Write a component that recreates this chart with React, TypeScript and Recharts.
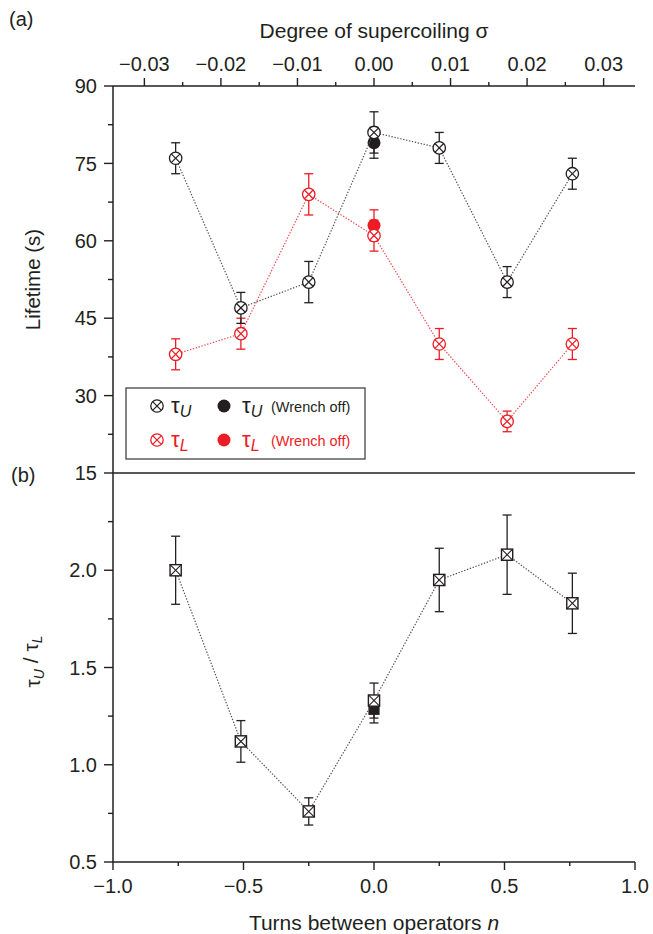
import React from "react";
import { ComposedChart, Scatter, XAxis, YAxis, ErrorBar, Label } from "recharts";

const FONT = '"Liberation Sans", Arial, Helvetica, sans-serif';
const INK = "#231f20";
const RED = "#ed1c24";

// measurement positions (turns between operators n)
const turns = [-0.76, -0.51, -0.25, 0, 0.25, 0.51, 0.76];

// panel (a) lifetimes (s)
const tauU = [76, 47, 52, 81, 78, 52, 73];
const tauUErr = [3, 3, 4, 4, 3, 3, 3];
const tauL = [38, 42, 69, 61, 40, 25, 40];
const tauLErr = [3, 3, 4, 3, 3, 2, 3];

// wrench off, only at n = 0
const offTurns = [0];
const tauUOff = [79];
const tauUOffErr = [3];
const tauLOff = [63];
const tauLOffErr = [3];

// panel (b) ratio tauU / tauL
const ratio = [2.0, 1.12, 0.76, 1.33, 1.95, 2.08, 1.83];
const ratioErr = [0.175, 0.107, 0.07, 0.09, 0.163, 0.204, 0.155];
const ratioOff = [1.285];
const ratioOffErr = [0.07];

// axis ticks
const sigmaMajor = [-0.03, -0.02, -0.01, 0, 0.01, 0.02, 0.03];
const sigmaMinor = [-0.025, -0.015, -0.005, 0.005, 0.015, 0.025];
const lifeMajor = [15, 30, 45, 60, 75, 90];
const lifeMinor = [22.5, 37.5, 52.5, 67.5, 82.5];
const ratioMajor = [0.5, 1.0, 1.5, 2.0];
const ratioMinor = [0.75, 1.25, 1.75, 2.25];
const turnsMajor = [-1, -0.5, 0, 0.5, 1];
const turnsMinor = [-0.75, -0.25, 0.25, 0.75];

const pts = (xs: number[], ys: number[], es: number[]) =>
    xs.map((n, i) => ({ n, v: ys[i], err: es[i] }));

// the top axis has no series of its own; this anchors it to its tick values
const sigmaAnchor = sigmaMajor.map((s) => ({ s, v: 50 }));

const minus = (s: string) => s.replace("-", "\u2212");
const sorted = (a: number[], b: number[]) => [...a, ...b].sort((x, y) => x - y);

const MAJOR = 8;
const MINOR = 4;
const TICK_FONT = 20;
const TITLE_FONT = 21;

// custom tick: draws its own tick line (major / minor) and the label
function axisTick(side: "left" | "top" | "bottom", major: number[], fmt: (v: number) => string) {
    return function Tick(props: any) {
        const { x, y, payload } = props;
        const v = payload.value;
        const isMajor = major.some((m) => Math.abs(m - v) < 1e-9);
        const len = (isMajor ? MAJOR : MINOR) + (side === "left" ? 1 : 0);
        if (side === "left") {
            return (
                <g>
                    <line x1={x} y1={y} x2={x - len} y2={y} stroke={INK} strokeWidth={1.4} />
                    {isMajor && (
                        <text x={x - 16} y={y} dy="0.36em" textAnchor="end" fontSize={TICK_FONT} fill={INK} fontFamily={FONT}>
                            {fmt(v)}
                        </text>
                    )}
                </g>
            );
        }
        if (side === "top") {
            return (
                <g>
                    <line x1={x} y1={y} x2={x} y2={y - len} stroke={INK} strokeWidth={1.4} />
                    {isMajor && (
                        <text x={x} y={y - 15} textAnchor="middle" fontSize={TICK_FONT} fill={INK} fontFamily={FONT}>
                            {fmt(v)}
                        </text>
                    )}
                </g>
            );
        }
        return (
            <g>
                <line x1={x} y1={y} x2={x} y2={y + len} stroke={INK} strokeWidth={1.4} />
                {isMajor && (
                    <text x={x} y={y + 31} textAnchor="middle" fontSize={TICK_FONT} fill={INK} fontFamily={FONT}>
                        {fmt(v)}
                    </text>
                )}
            </g>
        );
    };
}

function CircleX({ cx, cy, color }: { cx: number; cy: number; color: string }) {
    const r = 6.2;
    const d = r * 0.707;
    return (
        <g>
            <circle cx={cx} cy={cy} r={r} fill="#fff" stroke={color} strokeWidth={1.3} />
            <line x1={cx - d} y1={cy - d} x2={cx + d} y2={cy + d} stroke={color} strokeWidth={1.2} />
            <line x1={cx - d} y1={cy + d} x2={cx + d} y2={cy - d} stroke={color} strokeWidth={1.2} />
        </g>
    );
}

function BoxX({ cx, cy }: { cx: number; cy: number }) {
    const h = 5.6;
    return (
        <g>
            <rect x={cx - h} y={cy - h} width={2 * h} height={2 * h} fill="#fff" stroke={INK} strokeWidth={1.4} />
            <line x1={cx - h} y1={cy - h} x2={cx + h} y2={cy + h} stroke={INK} strokeWidth={1.1} />
            <line x1={cx - h} y1={cy + h} x2={cx + h} y2={cy - h} stroke={INK} strokeWidth={1.1} />
        </g>
    );
}

const axisLine = { stroke: INK, strokeWidth: 1.5 };
const dotted = (c: string) => ({ stroke: c, strokeWidth: 1.2, strokeDasharray: "1.4 1.6" });

export default function App() {
    const fmtSigma = (v: number) => minus(v.toFixed(2));
    const fmtTurns = (v: number) => minus(v.toFixed(1));

    return (
        <div
            style={{
                position: "absolute",
                left: 0,
                top: 0,
                width: 653,
                height: 934,
                background: "#fff",
                fontFamily: FONT,
                color: INK,
            }}
        >
            <div style={{ position: "absolute", left: 9, top: 7, fontSize: 20, lineHeight: "24px" }}>(a)</div>
            <div style={{ position: "absolute", left: 11, top: 463, fontSize: 20, lineHeight: "24px" }}>(b)</div>

            {/* panel (a) */}
            <div style={{ position: "absolute", left: 0, top: 0 }}>
                <ComposedChart width={653} height={490} margin={{ top: 46, right: 18, bottom: 16, left: 0 }}>
                    <XAxis
                        xAxisId="sigma"
                        dataKey="s"
                        orientation="top"
                        type="number"
                        domain={[-0.0341, 0.0341]}
                        allowDataOverflow
                        ticks={sorted(sigmaMajor, sigmaMinor)}
                        interval={0}
                        height={40}
                        tickSize={0}
                        tickMargin={0}
                        tickLine={false}
                        axisLine={axisLine}
                        tick={axisTick("top", sigmaMajor, fmtSigma)}
                    >
                        <Label
                            content={(p: any) => (
                                <text
                                    x={p.viewBox.x + p.viewBox.width / 2}
                                    y={38}
                                    textAnchor="middle"
                                    fontSize={TITLE_FONT}
                                    fill={INK}
                                    fontFamily={FONT}
                                >
                                    Degree of supercoiling σ
                                </text>
                            )}
                        />
                    </XAxis>
                    <XAxis
                        xAxisId="n"
                        dataKey="n"
                        type="number"
                        domain={[-1, 1]}
                        height={1}
                        tick={false}
                        tickLine={false}
                        axisLine={axisLine}
                    />
                    <YAxis
                        yAxisId="life"
                        dataKey="v"
                        type="number"
                        domain={[15, 90]}
                        ticks={sorted(lifeMajor, lifeMinor)}
                        interval={0}
                        width={113}
                        tickSize={0}
                        tickMargin={0}
                        tickLine={false}
                        axisLine={axisLine}
                        tick={axisTick("left", lifeMajor, (v) => String(v))}
                    >
                        <Label
                            content={(p: any) => {
                                const cy = p.viewBox.y + p.viewBox.height / 2;
                                return (
                                    <text
                                        x={40}
                                        y={cy}
                                        transform={`rotate(-90 40 ${cy})`}
                                        textAnchor="middle"
                                        fontSize={20.5}
                                        fill={INK}
                                        fontFamily={FONT}
                                    >
                                        Lifetime (s)
                                    </text>
                                );
                            }}
                        />
                    </YAxis>
                    <YAxis yAxisId="edge" orientation="right" width={0} tick={false} tickLine={false} axisLine={axisLine} />

                    <Scatter
                        xAxisId="sigma"
                        yAxisId="life"
                        data={sigmaAnchor}
                        isAnimationActive={false}
                        shape={() => <g />}
                    />
                    <Scatter
                        xAxisId="n"
                        yAxisId="life"
                        data={pts(offTurns, tauLOff, tauLOffErr)}
                        fill={RED}
                        isAnimationActive={false}
                        shape={(p: any) => <circle cx={p.cx} cy={p.cy} r={6.5} fill={RED} />}
                    >
                        <ErrorBar dataKey="err" direction="y" width={4.5} stroke={RED} strokeWidth={1.3} />
                    </Scatter>
                    <Scatter
                        xAxisId="n"
                        yAxisId="life"
                        data={pts(turns, tauL, tauLErr)}
                        fill={RED}
                        line={dotted("#ef4a50")}
                        lineType="joint"
                        isAnimationActive={false}
                        shape={(p: any) => <CircleX cx={p.cx} cy={p.cy} color={RED} />}
                    >
                        <ErrorBar dataKey="err" direction="y" width={4.5} stroke={RED} strokeWidth={1.3} />
                    </Scatter>
                    <Scatter
                        xAxisId="n"
                        yAxisId="life"
                        data={pts(offTurns, tauUOff, tauUOffErr)}
                        fill={INK}
                        isAnimationActive={false}
                        shape={(p: any) => <circle cx={p.cx} cy={p.cy} r={6.5} fill={INK} />}
                    >
                        <ErrorBar dataKey="err" direction="y" width={4.5} stroke={INK} strokeWidth={1.3} />
                    </Scatter>
                    <Scatter
                        xAxisId="n"
                        yAxisId="life"
                        data={pts(turns, tauU, tauUErr)}
                        fill={INK}
                        line={dotted("#555")}
                        lineType="joint"
                        isAnimationActive={false}
                        shape={(p: any) => <CircleX cx={p.cx} cy={p.cy} color={INK} />}
                    >
                        <ErrorBar dataKey="err" direction="y" width={4.5} stroke={INK} strokeWidth={1.3} />
                    </Scatter>
                </ComposedChart>
            </div>

            {/* panel (b) */}
            <div style={{ position: "absolute", left: 0, top: 0 }}>
                <ComposedChart width={653} height={934} margin={{ top: 473, right: 18, bottom: 12, left: 0 }}>
                    <XAxis
                        xAxisId="n"
                        dataKey="n"
                        type="number"
                        domain={[-1, 1]}
                        ticks={sorted(turnsMajor, turnsMinor)}
                        interval={0}
                        height={60}
                        tickSize={0}
                        tickMargin={0}
                        tickLine={false}
                        axisLine={axisLine}
                        tick={axisTick("bottom", turnsMajor, fmtTurns)}
                    >
                        <Label
                            content={(p: any) => (
                                <text
                                    x={p.viewBox.x + p.viewBox.width / 2}
                                    y={930}
                                    textAnchor="middle"
                                    fontSize={TITLE_FONT}
                                    fill={INK}
                                    fontFamily={FONT}
                                >
                                    Turns between operators <tspan fontStyle="italic">n</tspan>
                                </text>
                            )}
                        />
                    </XAxis>
                    <YAxis
                        yAxisId="ratio"
                        dataKey="v"
                        type="number"
                        domain={[0.5, 2.5]}
                        ticks={sorted(ratioMajor, ratioMinor)}
                        interval={0}
                        width={113}
                        tickSize={0}
                        tickMargin={0}
                        tickLine={false}
                        axisLine={axisLine}
                        tick={axisTick("left", ratioMajor, (v) => v.toFixed(1))}
                    >
                        <Label
                            content={(p: any) => {
                                const cy = p.viewBox.y + p.viewBox.height / 2 - 6;
                                return (
                                    <text
                                        x={40}
                                        y={cy}
                                        transform={`rotate(-90 40 ${cy})`}
                                        textAnchor="middle"
                                        fontSize={21}
                                        fill={INK}
                                        fontFamily={FONT}
                                    >
                                        τ
                                        <tspan fontSize={14} fontStyle="italic" dy="0.3em">U</tspan>
                                        <tspan dy="-0.3em"> / τ</tspan>
                                        <tspan fontSize={14} fontStyle="italic" dy="0.3em">L</tspan>
                                    </text>
                                );
                            }}
                        />
                    </YAxis>
                    <YAxis yAxisId="edge" orientation="right" width={0} tick={false} tickLine={false} axisLine={axisLine} />

                    <Scatter
                        xAxisId="n"
                        yAxisId="ratio"
                        data={pts(offTurns, ratioOff, ratioOffErr)}
                        fill={INK}
                        isAnimationActive={false}
                        shape={(p: any) => <rect x={p.cx - 5.6} y={p.cy - 5.6} width={11.2} height={11.2} fill={INK} />}
                    >
                        <ErrorBar dataKey="err" direction="y" width={4.5} stroke={INK} strokeWidth={1.3} />
                    </Scatter>
                    <Scatter
                        xAxisId="n"
                        yAxisId="ratio"
                        data={pts(turns, ratio, ratioErr)}
                        fill={INK}
                        line={dotted("#555")}
                        lineType="joint"
                        isAnimationActive={false}
                        shape={(p: any) => <BoxX cx={p.cx} cy={p.cy} />}
                    >
                        <ErrorBar dataKey="err" direction="y" width={4.5} stroke={INK} strokeWidth={1.3} />
                    </Scatter>
                </ComposedChart>
            </div>

            {/* legend box for panel (a) */}
            <svg
                width={241}
                height={74}
                style={{ position: "absolute", left: 125, top: 387 }}
                fontFamily={FONT}
            >
                <rect x={1} y={1} width={239} height={71} fill="#fff" stroke="#444" strokeWidth={1.3} />
                <CircleX cx={32} cy={19} color={INK} />
                <text x={46} y={26} fontSize={22} fill={INK}>
                    τ<tspan fontSize={16} fontStyle="italic" dy="4">U</tspan>
                </text>
                <circle cx={99} cy={19} r={6.5} fill={INK} />
                <text x={117} y={26} fontSize={22} fill={INK}>
                    τ<tspan fontSize={16} fontStyle="italic" dy="4">U</tspan>
                </text>
                <text x={146} y={25} fontSize={14.5} fill={INK}>(Wrench off)</text>

                <CircleX cx={32} cy={53} color={RED} />
                <text x={46} y={60} fontSize={22} fill={RED}>
                    τ<tspan fontSize={16} fontStyle="italic" dy="4">L</tspan>
                </text>
                <circle cx={99} cy={53} r={6.5} fill={RED} />
                <text x={117} y={60} fontSize={22} fill={RED}>
                    τ<tspan fontSize={16} fontStyle="italic" dy="4">L</tspan>
                </text>
                <text x={146} y={59} fontSize={14.5} fill={RED}>(Wrench off)</text>
            </svg>
        </div>
    );
}
